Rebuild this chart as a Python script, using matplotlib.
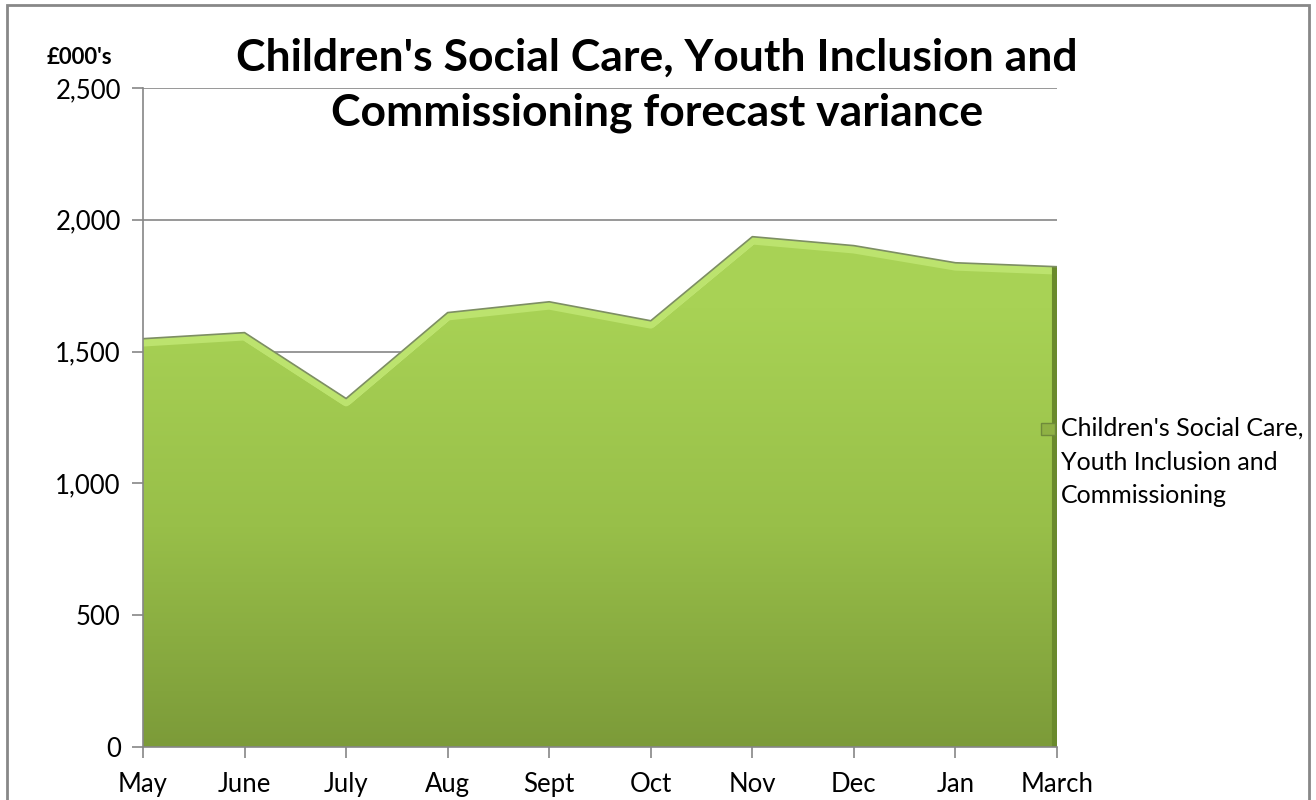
import numpy as np
import matplotlib.pyplot as plt
from matplotlib.patches import Rectangle
from matplotlib.colors import LinearSegmentedColormap
from matplotlib.ticker import FuncFormatter

plt.rcParams['font.family'] = ['Lato', 'DejaVu Sans']

# forecast variance by month, £000's
months = ['May', 'June', 'July', 'Aug', 'Sept', 'Oct', 'Nov', 'Dec', 'Jan', 'March']
variance = [1549, 1572, 1322, 1648, 1689, 1617, 1936, 1902, 1837, 1822]
series_name = "Children's Social Care,\nYouth Inclusion and\nCommissioning"

x = np.arange(len(months))
y = np.array(variance)

fig = plt.figure(figsize=(13.16, 8), dpi=100)
ax = fig.add_axes([143 / 1316, 53 / 800, 914 / 1316, 659 / 800])

ax.set_xlim(0, len(months) - 1)
ax.set_ylim(0, 2500)
ax.set_yticks(range(0, 2501, 500))
ax.yaxis.set_major_formatter(FuncFormatter(lambda v, p: f'{int(v):,}'))
ax.set_xticks(x)
ax.set_xticklabels(months)
ax.grid(axis='y', color='#868686', lw=1.2, zorder=0)
ax.set_axisbelow(True)
for s in ['top', 'right']:
    ax.spines[s].set_visible(False)
for s in ['left', 'bottom']:
    ax.spines[s].set_color('#868686')
    ax.spines[s].set_linewidth(1.2)
    ax.spines[s].set_zorder(5)
ax.tick_params(axis='both', colors='#868686', length=8, width=1.2, labelsize=18.5,
               labelcolor='black')
ax.tick_params(axis='x', pad=10)
ax.tick_params(axis='y', pad=8)

# area with vertical gradient fill
area = ax.fill_between(x, 0, y, facecolor='none', edgecolor='none', zorder=2)
clip = area.get_paths()[0]
grad = np.linspace(1, 0, 256).reshape(-1, 1)
cmap = LinearSegmentedColormap.from_list('g', ['#7c9b39', '#98bf49', '#a8d255', '#aad558'])
img = ax.imshow(grad, cmap=cmap, aspect='auto', extent=[0, len(months) - 1, 0, 2500],
                origin='upper', zorder=2)
img.set_clip_path(clip, transform=ax.transData)

# bevel highlight along the top edge and shaded right edge
hl, = ax.plot(x, y, color='#d3ef8c', lw=10, solid_joinstyle='round', zorder=3)
hl.set_clip_path(clip, transform=ax.transData)
hl2, = ax.plot(x, y - 14, color='#bce36e', lw=6, solid_joinstyle='round', zorder=3)
hl2.set_clip_path(clip, transform=ax.transData)
edge, = ax.plot([x[-1], x[-1]], [0, y[-1]], color='#6a8a2c', lw=8, zorder=3)
edge.set_clip_path(clip, transform=ax.transData)
ax.plot(x, y, color='#7d8e63', lw=1.2, zorder=4)

fig.text(657 / 1316, 1 - 85 / 800,
         "Children's Social Care, Youth Inclusion and\nCommissioning forecast variance",
         ha='center', va='center', fontsize=32, fontweight='bold', linespacing=1.45)
fig.text(79 / 1316, 1 - 57 / 800, "£000's", ha='center', va='center',
         fontsize=16, fontweight='bold')

# legend entry
fig.add_artist(Rectangle((1041 / 1316, 1 - 435 / 800), 14 / 1316, 12 / 800,
                         transform=fig.transFigure, facecolor='#8fb144',
                         edgecolor='#6f8a3a', lw=1))
fig.text(1061 / 1316, 1 - 462 / 800, series_name, ha='left', va='center',
         fontsize=18, linespacing=1.56)

fig.add_artist(Rectangle((7 / 1316, -0.02), 1302 / 1316, 1 - 5 / 800 + 0.02,
                         transform=fig.transFigure, fill=False,
                         edgecolor='#888888', lw=2))

fig.savefig('out.png', dpi=100)
